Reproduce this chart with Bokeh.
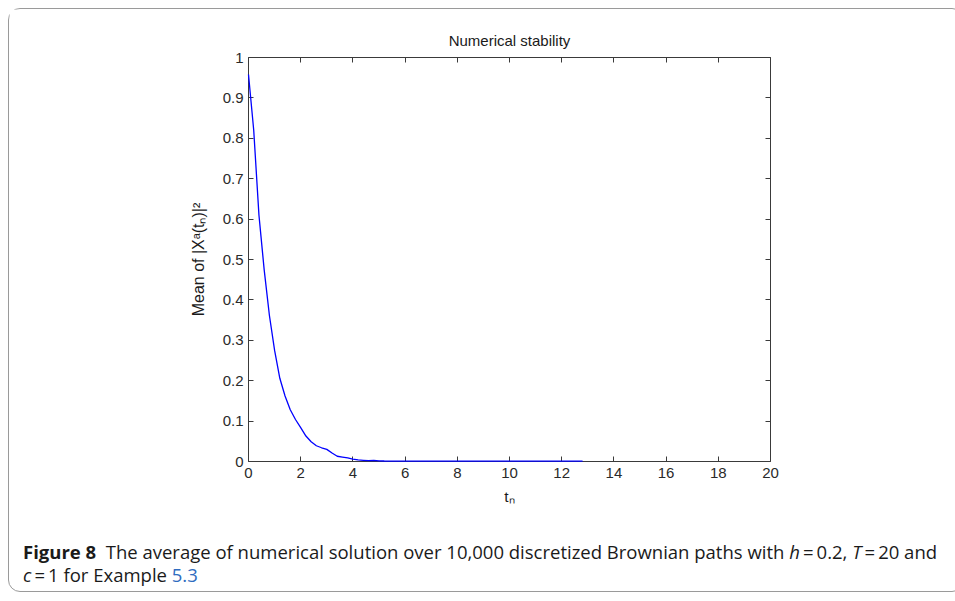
from bokeh.plotting import figure
from bokeh.models import Range1d, LinearAxis, FixedTicker, Div, Title
from bokeh.layouts import column
from bokeh.embed import file_html
from bokeh.resources import INLINE

# ---------------- data ----------------
title_text = "Numerical stability"
x_label = "t\u2099"
y_label = "Mean of |X\u1d43(t\u2099)|\u00b2"

t_n = [0.0, 0.2, 0.4, 0.6, 0.8, 1.0, 1.2, 1.4, 1.6, 1.8,
       2.0, 2.2, 2.4, 2.6, 2.8, 3.0, 3.2, 3.4, 3.6, 3.8,
       4.0, 4.2, 4.4, 4.6, 4.8, 5.0, 5.2, 5.4, 5.6, 5.8,
       6.0, 6.2, 6.4, 6.6, 6.8, 7.0, 7.2, 7.4, 7.6, 7.8,
       8.0, 8.2, 8.4, 8.6, 8.8, 9.0, 9.2, 9.4, 9.6, 9.8,
       10.0, 10.2, 10.4, 10.6, 10.8, 11.0, 11.2, 11.4, 11.6, 11.8,
       12.0, 12.2, 12.4, 12.6, 12.8]
mean_sq = [0.958, 0.820, 0.610, 0.475, 0.362, 0.275, 0.206, 0.162, 0.128, 0.104,
           0.084, 0.063, 0.049, 0.039, 0.034, 0.030, 0.021, 0.013, 0.011, 0.009,
           0.006, 0.004, 0.003, 0.002, 0.003, 0.0014, 0.0012, 0.0011, 0.0010, 0.0010,
           0.0009, 0.0009, 0.0009, 0.0008, 0.0008, 0.0008, 0.0008, 0.0008, 0.0008, 0.0008,
           0.0008, 0.0008, 0.0008, 0.0008, 0.0008, 0.0008, 0.0008, 0.0008, 0.0008, 0.0008,
           0.0008, 0.0008, 0.0008, 0.0008, 0.0008, 0.0008, 0.0008, 0.0008, 0.0008, 0.0008,
           0.0008, 0.0008, 0.0008, 0.0008, 0.0008]

x_ticks = [0, 2, 4, 6, 8, 10, 12, 14, 16, 18, 20]
x_tick_labels = ["0", "2", "4", "6", "8", "10", "12", "14", "16", "18", "20"]
y_ticks = [0, 0.1, 0.2, 0.3, 0.4, 0.5, 0.6, 0.7, 0.8, 0.9, 1]
y_tick_labels = ["0", "0.1", "0.2", "0.3", "0.4", "0.5", "0.6", "0.7", "0.8", "0.9", "1"]

caption_html = ('<b>Figure 8</b>&nbsp; The average of numerical solution over 10,000 '
                'discretized Brownian paths with <i>h</i>&thinsp;=&thinsp;0.2, '
                '<i>T</i>&thinsp;=&thinsp;20 and<br>'
                '<i>c</i>&thinsp;=&thinsp;1 for Example '
                '<span style="color:#2f6cc0">5.3</span>')

# ---------------- layout ----------------
FW_TOTAL, FH_TOTAL = 944, 520
FL, FT, FW, FH = 239, 48, 522, 404      # frame inside figure canvas (px)
AX = "#3a3a3a"
FONT = "Liberation Sans"

p = figure(width=FW_TOTAL, height=FH_TOTAL, output_backend="svg", toolbar_location=None,
           x_range=Range1d(0, 20), y_range=Range1d(0, 1),
           x_axis_location=None, y_axis_location=None, title=None,
           min_border_left=FL, min_border_top=FT,
           min_border_right=FW_TOTAL - FL - FW, min_border_bottom=FH_TOTAL - FT - FH,
           background_fill_color="white", border_fill_color="white")
p.outline_line_color = None
p.grid.visible = False


def make_axis(ticks, labels, show_labels, standoff):
    return LinearAxis(ticker=FixedTicker(ticks=ticks, minor_ticks=[]),
                      major_label_overrides={k: v for k, v in zip(ticks, labels)},
                      major_tick_in=5, major_tick_out=0,
                      minor_tick_in=0, minor_tick_out=0,
                      axis_line_color=AX, axis_line_width=1,
                      major_tick_line_color=AX, major_tick_line_width=1,
                      major_label_text_font=FONT,
                      major_label_text_font_size="15px",
                      major_label_text_color="#2a2a2a" if show_labels else None,
                      major_label_standoff=standoff)

xb = make_axis(x_ticks, x_tick_labels, True, 6)
xb.axis_label = x_label
xb.axis_label_text_font = FONT
xb.axis_label_text_font_size = "15.5px"
xb.axis_label_text_font_style = "normal"
xb.axis_label_text_color = "#1a1a1a"
xb.axis_label_standoff = 7
p.add_layout(xb, "below")

yl = make_axis(y_ticks, y_tick_labels, True, 5)
yl.axis_label = y_label
yl.axis_label_text_font = FONT
yl.axis_label_text_font_size = "16px"
yl.axis_label_text_font_style = "normal"
yl.axis_label_text_color = "#1a1a1a"
yl.axis_label_standoff = 13
p.add_layout(yl, "left")

p.add_layout(make_axis(x_ticks, x_tick_labels, False, 0), "above")
p.add_layout(make_axis(y_ticks, y_tick_labels, False, 0), "right")

p.add_layout(Title(text=title_text, align="center", text_font=FONT,
                   text_font_size="15px", text_font_style="normal",
                   text_color="#1a1a1a", standoff=18), "above")

p.line(t_n, mean_sq, line_color="#0000ff", line_width=1.3, level="overlay")

cap = Div(text=caption_html, width=FW_TOTAL, height=52,
          styles={"font-family": "'Open Sans', sans-serif", "font-size": "18.5px",
                  "line-height": "23px", "color": "#1a1a1a", "white-space": "nowrap",
                  "padding-left": "9px", "padding-top": "6px",
                  "box-sizing": "border-box"})

layout = column(p, cap, styles={"margin-left": "8px", "margin-top": "8px",
                                 "border": "1px solid #9a9a9a",
                                 "border-radius": "12px", "gap": "0px"})

open("out.html", "w").write(file_html(layout, INLINE))
